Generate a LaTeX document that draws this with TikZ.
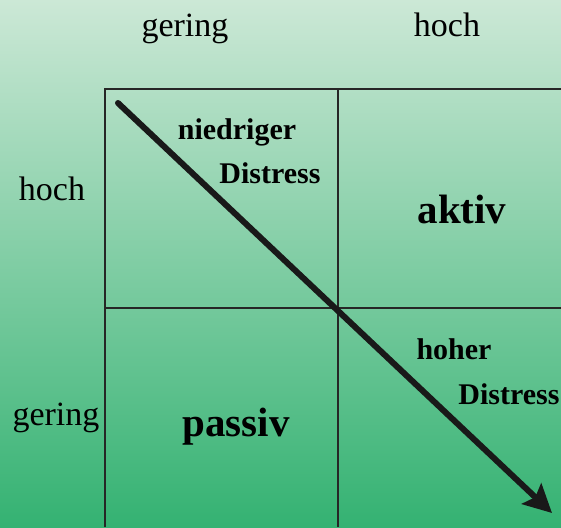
\documentclass[tikz,border=0pt]{standalone}
\usepackage{fontspec}
\setmainfont{Liberation Serif}
\usetikzlibrary{positioning, arrows.meta}

\begin{document}
\begin{tikzpicture}[x=1pt, y=-1pt,
      axis/.style={font=\fontsize{34}{38}\selectfont, anchor=base},
      note/.style={font=\fontsize{30}{34}\selectfont\bfseries, anchor=base},
      field/.style={font=\fontsize{41}{46}\selectfont\bfseries, anchor=base},
      gridline/.style={line width=2pt, black!85},
      trend/.style={line width=6pt, line cap=round, black!90, -{Stealth[length=28pt, width=28pt, inset=5pt]}}
    ]
      \shade[top color={rgb,255:red,204;green,232;blue,214}, bottom color={rgb,255:red,52;green,178;blue,114}] (0,0) rectangle (561,527);
      \useasboundingbox (0,0) rectangle (561,527);

      \draw[gridline] (105,527) -- (105,89) -- (561,89);
      \draw[gridline] (338,89) -- (338,527);
      \draw[gridline] (105,308) -- (561,308);

      \node[axis] (xlow) at (185,37) {gering};
      \node[axis] (xhigh) at (447,37) {hoch};
      \node[axis] (yhigh) at (52,200) {hoch};
      \node[axis] (ylow) at (56,425) {gering};

      \node[note] (lowa) at (237,139) {niedriger};
      \node[note] (lowb) at (270,183) {Distress};
      \node[note] (higha) at (454,359) {hoher};
      \node[note] (highb) at (509,404) {Distress};

      \node[field] (active) at (462,223) {aktiv};
      \node[field] (passive) at (236,436) {passiv};

      \coordinate (from) at (118,103);
      \coordinate (to) at (552,513);
      \draw[trend] (from) -- (to);
    \end{tikzpicture}
\end{document}
